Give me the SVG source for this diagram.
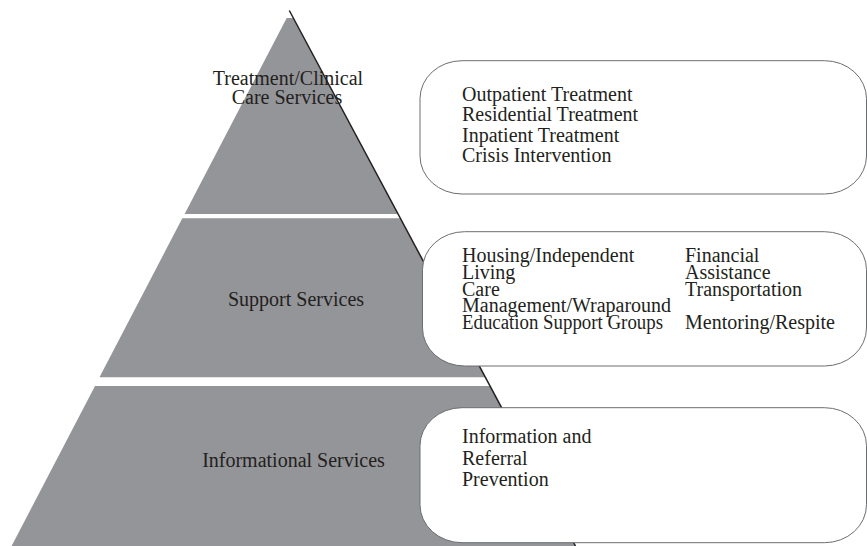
<svg xmlns="http://www.w3.org/2000/svg" width="867" height="546" viewBox="0 0 867 546">
  <style>
    .band { fill: #939598; stroke: none; }
    .box { fill: #ffffff; stroke: #6d6e71; stroke-width: 1; }
    .edge { stroke: #231f20; stroke-width: 1.5; fill: none; }
    text { font-family: "Liberation Serif", "Times New Roman", serif; font-size: 20px; fill: #231f20; }
    .mid { text-anchor: middle; }
  </style>
  <rect width="867" height="546" fill="#ffffff"/>

  <g id="tier-treatment">
    <polygon class="band" points="286.7,18 293,18 397.9,214 184.6,214"/>
    <text class="mid" x="288" y="85">Treatment/Clinical</text>
    <text class="mid" x="287" y="104">Care Services</text>
  </g>
  <g id="tier-support">
    <polygon class="band" points="182.3,218.3 400.2,218.3 485.3,377.3 99.5,377.3"/>
    <text class="mid" x="296" y="306">Support Services</text>
  </g>
  <g id="tier-informational">
    <polygon class="band" points="95,386 490,386 575.5,546 11.6,546"/>
    <text class="mid" x="293.5" y="467">Informational Services</text>
  </g>

  <g id="connectors">
    <line class="edge" x1="289.3" y1="10.5" x2="575.5" y2="546"/>
  </g>

  <g id="box-treatment">
    <rect class="box" x="420" y="60.7" width="446.5" height="133.3" rx="42" ry="38"/>
    <text x="462" y="100.7">Outpatient Treatment</text>
    <text x="462" y="121.2">Residential Treatment</text>
    <text x="462" y="141.7">Inpatient Treatment</text>
    <text x="462" y="162.2">Crisis Intervention</text>
  </g>

  <g id="box-support">
    <rect class="box" x="422.5" y="231.7" width="444" height="134.3" rx="42" ry="38"/>
    <text x="462" y="262">Housing/Independent</text>
    <text x="462" y="278.8">Living</text>
    <text x="462" y="295.6">Care</text>
    <text x="462" y="312.4">Management/Wraparound</text>
    <text x="462" y="329.2" textLength="201" lengthAdjust="spacingAndGlyphs">Education Support Groups</text>
    <text x="685" y="262">Financial</text>
    <text x="685" y="278.8">Assistance</text>
    <text x="685" y="295.6">Transportation</text>
    <text x="685" y="329.2">Mentoring/Respite</text>
  </g>

  <g id="box-informational">
    <rect class="box" x="420" y="407.7" width="446.5" height="135" rx="42" ry="38"/>
    <text x="462" y="443">Information and</text>
    <text x="462" y="464.5">Referral</text>
    <text x="462" y="486">Prevention</text>
  </g>
</svg>
